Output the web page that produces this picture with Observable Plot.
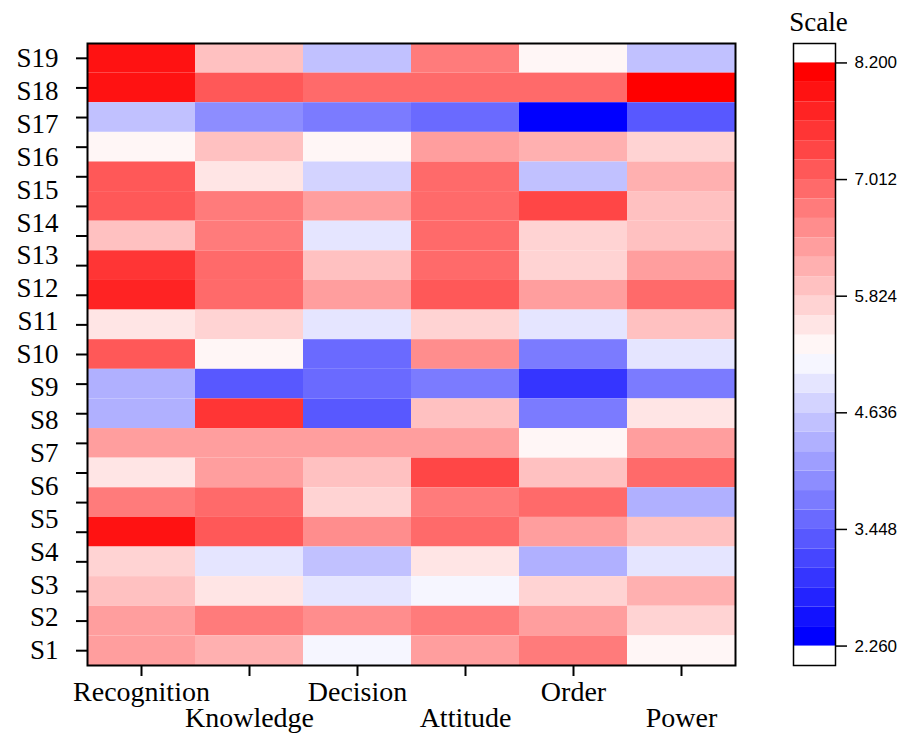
<!DOCTYPE html>
<html>
<head>
<meta charset="utf-8">
<script src="https://cdn.jsdelivr.net/npm/d3@7"></script>
<script src="https://cdn.jsdelivr.net/npm/@observablehq/plot@0.6"></script>
<style>
  body { margin: 0; background: #fff; }
  #wrap { position: relative; width: 902px; height: 733px; }
  #main { position: absolute; left: 0; top: 0; }
  #legend { position: absolute; left: 760px; top: 0; }
</style>
</head>
<body>
<div id="wrap"><div id="main"></div><div id="legend"></div></div>
<script>
// ---- data (rows listed top to bottom) ----
const columns = ["Recognition", "Knowledge", "Decision", "Attitude", "Order", "Power"];
const rowLabels = ["S19","S18","S17","S16","S15","S14","S13","S12","S11","S10","S9","S8","S7","S6","S5","S4","S3","S2","S1"];
const recognition = [7.90, 7.90, 4.54, 5.33, 7.11, 7.11, 5.92, 7.51, 7.71, 5.53, 7.11, 4.34, 4.34, 6.32, 5.53, 6.72, 7.90, 5.73, 5.92, 6.32, 6.32];
const knowledge   = [5.92, 7.11, 3.94, 5.92, 5.53, 6.72, 6.72, 6.91, 6.91, 5.73, 5.33, 3.35, 7.51, 6.32, 6.32, 6.91, 7.11, 4.93, 5.53, 6.72, 6.12];
const decision    = [4.54, 6.91, 3.75, 5.33, 4.74, 6.32, 4.93, 5.92, 6.32, 4.93, 3.55, 3.55, 3.35, 6.32, 5.92, 5.73, 6.52, 4.54, 4.93, 6.52, 5.13];
const attitude    = [6.72, 6.91, 3.55, 6.32, 6.91, 6.91, 6.91, 6.91, 7.11, 5.73, 6.52, 3.75, 5.92, 6.32, 7.31, 6.72, 6.91, 5.53, 5.13, 6.72, 6.32];
const order       = [5.33, 6.91, 2.36, 6.12, 4.54, 7.31, 5.73, 5.73, 6.32, 4.93, 3.75, 2.95, 3.75, 5.33, 5.92, 6.91, 6.32, 4.34, 5.73, 6.32, 6.72];
const power       = [4.54, 8.10, 3.35, 5.73, 6.12, 5.92, 5.92, 6.32, 6.91, 5.92, 4.93, 3.75, 5.53, 6.32, 6.91, 4.34, 5.92, 4.93, 6.12, 5.73, 5.33];
const legendTicks = [2.260, 3.448, 4.636, 5.824, 7.012, 8.200];
const vMin = 2.26, vMax = 8.2, nBins = 30;

// ---- derived tables ----
const series = [recognition, knowledge, decision, attitude, order, power];
const nRows = recognition.length;
const cells = [];
columns.forEach((c, ci) => series[ci].forEach((v, ri) => cells.push({col: c, row: ri + 1, value: v})));

const step = (vMax - vMin) / nBins;
const thresholds = d3.range(1, nBins).map(k => vMin + k * step);
const binColors = d3.range(nBins).map(b => {
  const d = 2 * b / (nBins - 1) - 1;
  const g = Math.round(255 * (1 - Math.abs(d)));
  return d < 0 ? `rgb(${g},${g},255)` : `rgb(255,${g},${g})`;
});
const bins = d3.range(nBins).map(b => ({lo: vMin + b * step, hi: vMin + (b + 1) * step, mid: vMin + (b + 0.5) * step}));
const colorScale = {type: "threshold", domain: thresholds, range: binColors};

const serif = "'Liberation Serif', 'Times New Roman', serif";

const main = Plot.plot({
  width: 760, height: 733,
  marginLeft: 87, marginTop: 43, marginRight: 25, marginBottom: 68,
  style: {fontFamily: serif, fontSize: "27px", color: "black", background: "white"},
  x: {type: "band", domain: columns, padding: 0, label: null},
  y: {type: "linear", domain: [0.5, nRows + 0.5], reverse: true, label: null},
  color: colorScale,
  marks: [
    Plot.barY(cells, {x: "col", y1: d => d.row - 0.5, y2: d => d.row + 0.5, fill: "value", inset: 0}),
    Plot.frame({stroke: "black", strokeWidth: 2}),
    Plot.axisY({ticks: d3.range(1, nRows + 1), tickSize: 11, tickFormat: () => "", strokeWidth: 2, label: null}),
    Plot.axisX({tickSize: 11, tickFormat: () => "", strokeWidth: 2, label: null}),
    Plot.text(rowLabels, {
      y: (d, i) => 1 + i * (nRows - 1) / (rowLabels.length - 1),
      text: d => d, frameAnchor: "left", textAnchor: "end", lineAnchor: "middle",
      dx: -29, fontSize: 27, fill: "black"
    }),
    Plot.text(columns.filter((d, i) => i % 2 === 0), {
      x: d => d, text: d => d, frameAnchor: "bottom", lineAnchor: "bottom", dy: 35, fontSize: 28, fill: "black"
    }),
    Plot.text(columns.filter((d, i) => i % 2 === 1), {
      x: d => d, text: d => d, frameAnchor: "bottom", lineAnchor: "bottom", dy: 61, fontSize: 28, fill: "black"
    })
  ]
});
document.getElementById("main").append(main);

const legend = Plot.plot({
  width: 142, height: 733,
  marginLeft: 33, marginRight: 67, marginTop: 43, marginBottom: 68,
  style: {fontFamily: "'Liberation Sans', Arial, sans-serif", fontSize: "17px", color: "black", background: "white"},
  x: {domain: [0, 1], axis: null},
  y: {domain: [vMin - step, vMax + step], label: null},
  color: colorScale,
  marks: [
    Plot.rect(bins, {x1: 0, x2: 1, y1: "lo", y2: "hi", fill: "mid"}),
    Plot.frame({stroke: "black", strokeWidth: 1.5}),
    Plot.axisY({anchor: "right", ticks: legendTicks, tickFormat: d3.format(".3f"), tickSize: 11, tickPadding: 8, strokeWidth: 1.5, label: null}),
    Plot.text(["Scale"], {text: d => d, frameAnchor: "top", lineAnchor: "bottom", dy: -13, dx: 4, fontFamily: serif, fontSize: 27, fill: "black"})
  ]
});
document.getElementById("legend").append(legend);
</script>
</body>
</html>
